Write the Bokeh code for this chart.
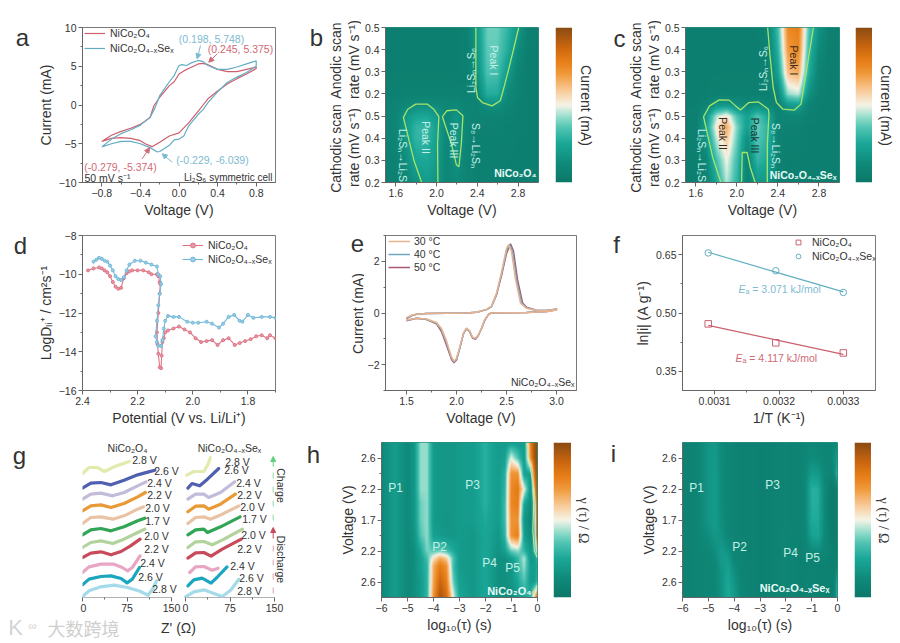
import numpy as np
from bokeh.plotting import figure
from bokeh.layouts import row, column
from bokeh.embed import file_html
from bokeh.resources import INLINE
from bokeh.models import (Range1d, Label, Legend, LegendItem, FixedTicker, LinearColorMapper,
                          Arrow, NormalHead)

NICO = "NiCo₂O₄"
NISE = "NiCo₂O₄₋ₓSeₓ"
RED, BLUE = "#CE5F6E", "#63ACC2"
FONT = "Liberation Sans"
TXT = "#333333"

# ---------- panel a
a_red_v = [-0.8,-0.7,-0.6,-0.5,-0.4,-0.3,-0.26,-0.2,-0.1,-0.05,0.0,0.05,0.1,0.2,0.245,0.3,0.35,0.4,0.5,0.6,0.7,0.8,0.8,0.7,0.6,0.5,0.4,0.3,0.25,0.2,0.1,0.0,-0.1,-0.2,-0.279,-0.35,-0.4,-0.5,-0.6,-0.7,-0.8]
a_red_i = [-4.7,-3.9,-3.4,-3.0,-2.5,-1.6,-0.1,1.0,2.5,3.0,4.0,4.4,4.7,5.3,5.375,5.2,4.9,4.6,4.3,4.3,4.6,4.9,4.7,4.0,3.4,2.7,1.8,0.8,0.0,-0.8,-2.3,-3.6,-4.0,-4.8,-5.374,-5.0,-4.6,-4.3,-4.2,-4.3,-4.7]
a_blue_v = [-0.8,-0.7,-0.6,-0.5,-0.4,-0.3,-0.25,-0.2,-0.1,-0.05,0.0,0.03,0.08,0.12,0.198,0.25,0.3,0.4,0.5,0.6,0.7,0.8,0.8,0.7,0.6,0.5,0.4,0.3,0.25,0.2,0.1,0.05,0.0,-0.05,-0.1,-0.2,-0.229,-0.3,-0.4,-0.5,-0.6,-0.7,-0.8]
a_blue_i = [-5.4,-4.4,-3.7,-3.2,-2.6,-1.6,-0.4,1.2,3.0,3.8,5.1,5.2,5.1,5.4,5.748,5.6,5.1,4.6,4.6,4.9,5.3,5.7,5.0,4.2,3.6,2.9,1.7,0.3,-0.6,-1.2,-2.7,-4.0,-4.4,-4.5,-5.2,-6.0,-6.039,-5.5,-5.0,-4.7,-4.7,-5.0,-5.4]

# ---------- panels b, c heat maps (colour level 0..1)
bc_v = [1.5,1.6,1.7,1.8,1.9,2.0,2.1,2.2,2.3,2.4,2.5,2.6,2.7,2.8,2.9,3.0]
bc_rows = [0,1,2,2.5,3,3.5,4,5,6,7]
b_map = [
[.06,.07,.10,.16,.20,.17,.10,.12,.08,.06,.06,.05,.05,.05,.05,.05],
[.06,.07,.14,.24,.26,.20,.10,.16,.08,.06,.06,.06,.05,.05,.05,.05],
[.07,.09,.19,.30,.30,.22,.10,.18,.09,.06,.06,.06,.06,.05,.05,.05],
[.07,.09,.20,.30,.31,.22,.11,.18,.09,.07,.07,.07,.06,.06,.05,.05],
[.07,.09,.18,.24,.25,.19,.11,.17,.09,.07,.08,.08,.07,.06,.05,.05],
[.07,.08,.11,.13,.14,.12,.10,.11,.08,.08,.15,.15,.09,.06,.05,.05],
[.06,.06,.07,.07,.07,.07,.07,.07,.07,.10,.27,.27,.12,.07,.05,.05],
[.05,.05,.05,.05,.05,.05,.05,.05,.06,.16,.35,.33,.20,.08,.05,.05],
[.05,.05,.05,.05,.05,.05,.05,.05,.06,.18,.37,.37,.27,.13,.05,.05],
[.05,.05,.05,.05,.05,.05,.05,.05,.07,.20,.38,.38,.30,.19,.06,.05]]
c_map = [
[.05,.05,.07,.25,.45,.30,.08,.18,.20,.07,.05,.05,.05,.05,.05,.05],
[.05,.05,.10,.33,.50,.33,.08,.30,.25,.08,.05,.05,.05,.05,.05,.05],
[.05,.06,.18,.46,.60,.38,.15,.36,.29,.08,.06,.06,.05,.05,.05,.05],
[.05,.06,.22,.52,.66,.40,.22,.38,.29,.08,.07,.07,.05,.05,.05,.05],
[.05,.06,.18,.44,.53,.34,.22,.35,.25,.08,.10,.10,.06,.05,.05,.05],
[.05,.05,.08,.17,.18,.14,.11,.14,.10,.08,.20,.22,.08,.05,.05,.05],
[.05,.05,.05,.06,.06,.06,.06,.06,.06,.10,.42,.46,.16,.06,.05,.05],
[.05,.05,.05,.05,.05,.05,.05,.05,.06,.22,.62,.66,.28,.08,.05,.05],
[.05,.05,.05,.05,.05,.05,.05,.05,.07,.28,.70,.75,.32,.12,.05,.05],
[.05,.05,.05,.05,.05,.05,.05,.05,.09,.32,.75,.78,.36,.17,.06,.05]]
b_c1_v = [2.386,2.386,2.402,2.45,2.545,2.625,2.657,2.704,2.752,2.806]
b_c1_y = [7,4.29,3.84,3.61,3.46,3.69,4.22,5.05,5.95,7]
b_c2_v = [1.855,1.78,1.676,1.718,1.797,1.909,1.972,2.023,2.01,2.014]
b_c2_y = [0,.98,2.94,3.31,3.54,3.54,3.31,2.97,1.73,0]
b_c3_v = [2.058,2.10,2.195,2.259,2.243,2.22,2.195,2.147,2.058]
b_c3_y = [2.97,3.24,3.28,3.01,1.73,.71,.8,1.73,2.97]
c_c1_v = [2.30,2.322,2.354,2.386,2.45,2.561,2.625,2.657,2.704,2.746]
c_c1_y = [7,5.8,4.29,3.61,3.31,3.27,3.54,4.44,5.8,7]
c_c2_v = [1.845,1.765,1.676,1.734,1.829,1.925,1.988,2.036,2.116,2.211,2.307,2.313,2.297,2.297]
c_c2_y = [0,1.13,2.97,3.46,3.73,3.72,3.46,3.27,3.61,3.64,3.31,3.09,1.73,0]
c_c3_v = [2.046,2.052,2.10,2.131,2.179]
c_c3_y = [0,1.355,1.355,.68,0]

# ---------- panel d
d_red_v = [2.38,2.36,2.34,2.33,2.32,2.31,2.30,2.29,2.28,2.27,2.26,2.25,2.24,2.23,2.22,2.20,2.18,2.16,2.15,2.13,2.125,2.12,2.118,2.12,2.125,2.13,2.128,2.125,2.12,2.115,2.113,2.11,2.105,2.10,2.09,2.07,2.05,2.03,2.01,1.99,1.97,1.95,1.93,1.91,1.89,1.87,1.848,1.83,1.81,1.79,1.77,1.75,1.73,1.72,1.70]
d_red_l = [-9.8,-9.7,-9.65,-9.7,-9.8,-9.9,-10.1,-10.4,-10.65,-10.75,-10.7,-10.2,-9.95,-9.85,-9.8,-9.8,-9.8,-9.9,-10.0,-10.0,-10.1,-10.4,-10.5,-11,-12,-13,-13.6,-14.1,-14.8,-14.85,-14.2,-13.5,-13.3,-13.0,-12.9,-12.8,-12.7,-12.85,-13.0,-13.3,-13.5,-13.45,-13.4,-13.65,-13.4,-13.3,-13.65,-13.55,-13.45,-13.35,-13.2,-13.15,-13.3,-13.15,-13.3]
d_blue_v = [2.36,2.35,2.34,2.33,2.32,2.31,2.30,2.29,2.28,2.27,2.26,2.25,2.24,2.23,2.21,2.19,2.17,2.15,2.13,2.125,2.118,2.115,2.12,2.125,2.13,2.135,2.13,2.125,2.115,2.11,2.105,2.10,2.09,2.07,2.05,2.02,2.0,1.98,1.95,1.93,1.905,1.89,1.87,1.85,1.83,1.82,1.80,1.78,1.75,1.72,1.70]
d_blue_l = [-9.35,-9.25,-9.15,-9.2,-9.3,-9.35,-9.55,-9.8,-10.1,-10.25,-10.3,-10.15,-9.8,-9.5,-9.3,-9.3,-9.4,-9.5,-9.6,-10.0,-10.1,-10.5,-11,-11.6,-12.4,-13.2,-13.5,-13.7,-13.7,-13.4,-12.8,-12.4,-12.15,-12.2,-12.2,-12.45,-12.5,-12.5,-12.45,-12.55,-12.75,-12.55,-12.2,-12.1,-12.4,-12.45,-12.1,-12.25,-12.2,-12.2,-12.25]

# ---------- panel e
e_v50 = [1.5,1.55,1.6,1.7,1.9,2.1,2.2,2.3,2.35,2.4,2.45,2.5,2.54,2.57,2.61,2.66,2.7,2.8,2.9,3.0,3.0,2.9,2.7,2.5,2.35,2.32,2.28,2.25,2.22,2.19,2.16,2.13,2.1,2.07,2.03,2.0,1.975,1.95,1.9,1.85,1.8,1.7,1.6,1.5]
e_i50 = [-.22,-.11,-.05,-.02,-.01,0,.03,.13,.25,.7,1.45,2.3,2.68,2.4,1.3,.4,.22,.11,.1,.16,.13,.06,.02,.01,0,-.05,-.3,-.6,-.85,-1.02,-.97,-.72,-.6,-.8,-1.4,-1.82,-1.93,-1.8,-1.25,-.72,-.42,-.25,-.2,-.3]
e_v40 = [1.5,1.55,1.6,1.7,1.9,2.1,2.2,2.3,2.35,2.4,2.45,2.5,2.53,2.56,2.6,2.65,2.7,2.8,2.9,3.0,3.0,2.9,2.7,2.5,2.35,2.32,2.28,2.25,2.22,2.19,2.16,2.13,2.1,2.07,2.03,2.0,1.975,1.95,1.9,1.85,1.8,1.7,1.6,1.5]
e_i40 = [-.2,-.1,-.05,-.02,-.01,0,.03,.13,.25,.72,1.5,2.4,2.66,2.4,1.3,.4,.2,.1,.1,.15,.13,.06,.02,.01,0,-.05,-.3,-.6,-.85,-1.0,-.95,-.7,-.6,-.8,-1.4,-1.8,-1.9,-1.75,-1.15,-.65,-.4,-.24,-.2,-.28]
e_v30 = [1.5,1.55,1.6,1.7,1.9,2.1,2.2,2.3,2.35,2.4,2.45,2.5,2.52,2.55,2.59,2.64,2.7,2.8,2.9,3.0,3.0,2.9,2.7,2.5,2.35,2.32,2.28,2.25,2.22,2.19,2.16,2.13,2.1,2.07,2.03,2.0,1.975,1.95,1.9,1.85,1.8,1.7,1.6,1.5]
e_i30 = [-.18,-.09,-.05,-.02,-.01,0,.03,.14,.27,.76,1.58,2.5,2.64,2.38,1.3,.38,.18,.1,.09,.15,.12,.05,.02,.01,0,-.05,-.28,-.58,-.83,-.98,-.93,-.68,-.58,-.78,-1.35,-1.75,-1.87,-1.7,-1.08,-.6,-.37,-.23,-.2,-.27]

# ---------- panel f
f_t_red, f_y_red = [0.00309,0.003195,0.0033], [0.472,0.423,0.397]
f_t_blue, f_y_blue = [0.00309,0.003195,0.0033], [0.655,0.609,0.553]

# ---------- panel g (Z', stacked -Z'')
g_labels_l = ["2.8 V","2.6 V","2.4 V","2.2 V","2.0 V","1.7 V","2.0 V","2.2 V","2.4 V","2.6 V","2.8 V"]
g_colors = ["#A5DAE8","#1BA6BF","#E8A6C4","#C84B5C","#B3D39C","#32A556","#EAC3A4","#E99A36","#C3BBDA","#4F60B0","#E3EAAE"]
g_l_x = [[0,11,31,53,76,98,110,118,125],[0,11,31,48,65,75,84,96],[0,11,31,53,67,76,84,97],[0,14,31,48,65,81,97],[0,14,31,51,70,93,105],[0,14,31,48,70,93,105],[0,14,31,51,70,93,103],[0,14,31,48,70,93,106],[0,14,31,51,70,93,107],[0,14,31,48,70,93,110,122],[0,11,25,37,53,79]]
g_l_y = [[3,20,32,37,30,18,7,25,50],[38,55,63,65,57,44,55,90],[75,92,100,100,90,80,90,125],[120,133,137,128,138,155,175],[150,165,170,162,175,195,205],[188,203,207,200,212,230,238],[222,240,242,235,245,265,272],[260,275,278,270,282,302,315],[295,310,313,305,315,335,347],[328,343,345,338,352,368,376,382],[372,390,390,378,392,408]]
g_r_x = [[0,14,31,48,62,76,90],[4,14,28,43,53,70],[7,17,31,45,55],[4,17,31,43,62,94],[4,17,31,45,65,96],[4,17,31,37,59,92],[4,17,31,42,62,90],[4,17,31,39,59,84],[4,17,31,39,59,83],[4,11,24,37,56],[2,14,31,38,42]]
g_r_y = [[2,17,23,12,3,22,55],[35,53,58,43,60,92],[75,92,93,82,88],[118,134,135,124,145,175],[150,167,168,158,175,205],[188,203,205,195,212,242],[222,240,242,235,250,275],[257,274,275,265,280,310],[295,310,310,300,315,347],[328,342,335,355,387],[367,378,378,400,420]]

# ---------- panels h, i heat maps
hi_t = [-6,-5.5,-5,-4.75,-4.5,-4.25,-4,-3.75,-3.5,-3.25,-3,-2.5,-2,-1.5,-1.25,-1,-.75,-.5,-.25,-.1,0]
hi_rows = [-.5,0,.5,.75,1,1.5,2,2.5,3,3.5,4,4.5]
h_map = [
[.12,.2,.12,.14,.2,.3,.72,.95,.85,.5,.25,.18,.25,.15,.15,.14,.2,.25,.3,.6,.85],
[.12,.2,.12,.14,.2,.3,.68,.88,.78,.38,.22,.18,.25,.15,.15,.17,.25,.35,.2,.2,.3],
[.12,.2,.12,.14,.22,.3,.66,.8,.72,.33,.2,.18,.25,.15,.15,.18,.3,.42,.2,.2,.25],
[.12,.2,.12,.14,.22,.33,.55,.68,.6,.35,.2,.18,.25,.15,.15,.2,.3,.45,.18,.2,.3],
[.12,.2,.12,.14,.25,.4,.35,.38,.33,.26,.2,.18,.25,.16,.22,.38,.42,.3,.18,.3,.5],
[.12,.2,.12,.16,.35,.42,.22,.2,.18,.18,.2,.18,.25,.18,.3,.72,.78,.22,.12,.3,.95],
[.12,.2,.12,.18,.38,.42,.2,.18,.17,.18,.2,.2,.26,.2,.32,.72,.72,.18,.1,.35,.95],
[.12,.2,.12,.18,.38,.42,.2,.18,.18,.18,.2,.2,.28,.2,.32,.75,.78,.24,.12,.4,.95],
[.12,.2,.12,.18,.42,.42,.2,.18,.18,.18,.2,.2,.28,.2,.3,.75,.8,.5,.15,.7,.95],
[.12,.2,.12,.18,.42,.42,.2,.18,.18,.18,.2,.2,.28,.2,.28,.72,.72,.22,.22,.85,.98],
[.12,.2,.12,.18,.42,.42,.2,.18,.18,.18,.2,.2,.28,.2,.22,.5,.35,.2,.75,.95,1],
[.12,.2,.12,.18,.42,.42,.2,.18,.18,.18,.2,.2,.28,.2,.2,.22,.2,.2,.8,.95,1]]
i_map = [
[.07,.08,.09,.1,.16,.26,.2,.1,.08,.07,.06,.07,.09,.07,.07,.08,.07,.06,.06,.08,.3],
[.07,.08,.09,.1,.16,.25,.17,.09,.08,.07,.06,.07,.09,.07,.07,.08,.07,.07,.06,.08,.25],
[.07,.08,.09,.1,.18,.22,.13,.08,.08,.07,.06,.07,.09,.07,.07,.07,.07,.07,.07,.06,.1],
[.07,.08,.09,.12,.2,.2,.1,.08,.07,.07,.06,.07,.09,.07,.07,.08,.08,.08,.06,.05,.07],
[.07,.08,.1,.14,.2,.16,.09,.08,.07,.07,.06,.07,.09,.07,.08,.12,.13,.1,.07,.06,.07],
[.07,.08,.14,.18,.16,.1,.08,.07,.07,.07,.06,.07,.09,.07,.1,.22,.25,.12,.04,.03,.05],
[.07,.08,.17,.2,.14,.09,.08,.07,.07,.07,.06,.07,.08,.07,.1,.26,.26,.12,.03,.03,.06],
[.07,.08,.17,.2,.13,.09,.08,.07,.07,.07,.06,.07,.08,.07,.1,.27,.27,.12,.03,.03,.06],
[.07,.08,.17,.2,.13,.09,.08,.07,.07,.07,.06,.07,.08,.07,.1,.28,.27,.12,.03,.03,.07],
[.07,.08,.17,.2,.13,.09,.08,.07,.07,.07,.06,.07,.08,.07,.11,.2,.19,.11,.08,.12,.3],
[.07,.08,.17,.19,.13,.09,.08,.07,.07,.07,.06,.07,.08,.07,.1,.13,.12,.1,.09,.15,.2],
[.07,.08,.17,.19,.12,.09,.08,.07,.07,.07,.06,.07,.08,.07,.09,.11,.1,.09,.08,.1,.12]]
h_c1_t = [-.41,-.26,-.13,-.18,-.12,0]
h_c1_y = [4.49,3.58,2.99,1.65,1,.78]
h_c2_t = [-.22,0]
h_c2_y = [-.37,-.13]

# ---------- colours and helpers
stops = [(0,"#0C7869"),(.12,"#0F8A7A"),(.25,"#1AA797"),(.35,"#4FC3B2"),(.42,"#93DDCC"),(.5,"#F6F4E6"),(.6,"#F8C793"),(.7,"#F09A3C"),(.78,"#E87F18"),(.88,"#C8650F"),(1,"#8A4B12")]
def hexrgb(c): return [int(c[i:i+2],16) for i in (1,3,5)]
pos = np.array([s[0] for s in stops]); rgbs = np.array([hexrgb(s[1]) for s in stops])
lv = np.linspace(0,1,256)
palette = ["#%02x%02x%02x" % tuple(int(round(np.interp(l,pos,rgbs[:,k]))) for k in range(3)) for l in lv]
mapper = LinearColorMapper(palette=palette, low=0, high=1)

AX = 14
GEOM = {}
def panel(box, frame, xr, yr):
    """box and frame are page pixels (x0,y0,x1,y1)."""
    p = figure(width=box[2]-box[0], height=box[3]-box[1], output_backend="svg", toolbar_location=None,
               x_range=Range1d(*xr), y_range=Range1d(*yr), frame_align=False,
               min_border_left=frame[0]-box[0], min_border_right=box[2]-frame[2],
               min_border_top=frame[1]-box[1], min_border_bottom=box[3]-frame[3])
    p.grid.visible = False
    p.outline_line_color = "#7a7a7a"
    p.background_fill_color = "white"
    GEOM[id(p)] = (frame, xr, yr, box)
    for ax in p.axis:
        ax.major_label_text_font = FONT; ax.major_label_text_font_size = "10.5px"
        ax.major_label_text_color = TXT; ax.axis_label_text_font = FONT
        ax.axis_label_text_font_size = f"{AX}px"; ax.axis_label_text_font_style = "normal"
        ax.axis_label_text_color = TXT; ax.axis_line_color = "#666666"
        ax.major_tick_line_color = "#666666"; ax.minor_tick_line_color = "#666666"
        ax.major_tick_out = 4; ax.major_tick_in = 0; ax.minor_tick_out = 2; ax.minor_tick_in = 0
        ax.major_label_standoff = 2; ax.axis_label_standoff = 2
    return p

def gutter(box):
    """text-only strip: its whole area is the frame, so its labels stay visible"""
    p = figure(width=box[2]-box[0], height=box[3]-box[1], output_backend="svg", toolbar_location=None,
               x_range=Range1d(0,1), y_range=Range1d(0,1), x_axis_location=None, y_axis_location=None,
               frame_align=False, min_border_left=0, min_border_right=0, min_border_top=0, min_border_bottom=0)
    p.grid.visible = False; p.outline_line_color = None
    GEOM[id(p)] = (box, (0,1), (0,1), box)
    return p

def xy(p, px, py):
    f, xr, yr, _ = GEOM[id(p)]
    return (xr[0]+(px-f[0])/(f[2]-f[0])*(xr[1]-xr[0]), yr[1]+(py-f[1])/(f[3]-f[1])*(yr[0]-yr[1]))

def lab(p, px, py, text, size=10.5, color=TXT, angle=0, align="center", style="normal", font=FONT):
    box = GEOM[id(p)][3]
    p.add_layout(Label(x=px-box[0], y=py-box[1], x_units="canvas", y_units="canvas", text=text, text_font=font,
                       text_font_size=f"{size}px", text_color=color, angle=angle, angle_units="deg",
                       text_align=align, text_baseline="middle", text_font_style=style))

def arrow(p, a, b, color):
    xa, ya = xy(p, *a); xb, yb = xy(p, *b)
    p.add_layout(Arrow(end=NormalHead(size=5, line_color=color, fill_color=color), line_color=color,
                       line_width=1, x_start=xa, y_start=ya, x_end=xb, y_end=yb))

def legend(p, items, x, y, gw=21, standoff=5, spacing=2):
    p.add_layout(Legend(items=[LegendItem(label=t, renderers=r) for t, r in items], location=(x, y),
                        background_fill_alpha=0, border_line_color=None, padding=0, margin=0,
                        glyph_width=gw, glyph_height=12, label_height=12, label_standoff=standoff, spacing=spacing,
                        label_text_font=FONT, label_text_font_size="10.5px", label_text_color=TXT))

def fmt(ticks, n=1):
    return {v: f"{v:.{n}f}".replace("-", "−") for v in ticks}

def smooth_map(mat, xs, ys, n=240):
    """resample the read-off grid for display on an even pixel grid"""
    mat = np.array(mat, float)
    xn = np.linspace(xs[0], xs[-1], n); yn = np.linspace(ys[0], ys[-1], n)
    t = np.array([np.interp(xn, xs, r) for r in mat])
    return np.array([np.interp(yn, ys, t[:, k]) for k in range(n)]).T

def heat(p, mat, xs, ys):
    p.image(image=[smooth_map(mat, xs, ys)], x=xs[0], y=ys[0], dw=xs[-1]-xs[0], dh=ys[-1]-ys[0], color_mapper=mapper)

def colorbar(box, frame):
    p = figure(width=box[2]-box[0], height=box[3]-box[1], output_backend="svg", toolbar_location=None,
               x_range=Range1d(0,1), y_range=Range1d(0,1), x_axis_location=None, y_axis_location=None, frame_align=False,
               min_border_left=frame[0]-box[0], min_border_right=box[2]-frame[2],
               min_border_top=frame[1]-box[1], min_border_bottom=box[3]-frame[3])
    p.grid.visible = False; p.outline_line_color = None
    p.image(image=[np.linspace(0,1,256).reshape(-1,1)], x=0, y=0, dw=1, dh=1, color_mapper=mapper)
    return p

MINT = "#C4F0E6"
CONT = "#A6E468"

# ---- a
ga = gutter((8,8,34,225)); lab(ga, 22, 37, "a", 24)
pa = panel((34,8,300,225), (82,27,275,182), (-1,1), (-10,10))
pa.xaxis.axis_label = "Voltage (V)"; pa.yaxis.axis_label = "Current (mA)"
ta = [-0.8,-0.4,0.0,0.4,0.8]
pa.xaxis.ticker = FixedTicker(ticks=ta, minor_ticks=[-0.6,-0.2,0.2,0.6]); pa.xaxis.major_label_overrides = fmt(ta)
pa.yaxis.ticker = FixedTicker(ticks=[-10,-5,0,5,10], minor_ticks=[-7.5,-2.5,2.5,7.5])
ra = pa.line(a_red_v, a_red_i, line_color=RED, line_width=1.2)
rb = pa.line(a_blue_v, a_blue_i, line_color=BLUE, line_width=1.2)
legend(pa, [(NICO,[ra]),(NISE,[rb])], 2, 127, spacing=2)
lab(pa, 211, 38, "(0.198, 5.748)", 10.5, "#7DBBD2")
lab(pa, 240, 48, "(0.245, 5.375)", 10.5, "#D06A75")
lab(pa, 212, 159, "(-0.229, -6.039)", 10.5, "#7DBBD2")
lab(pa, 120, 166, "(-0.279, -5.374)", 10.5, "#D06A75")
lab(pa, 84, 177, "50 mV s⁻¹", 10.5, align="left")
lab(pa, 272, 177, "Li₂S₆ symmetric cell", 10, align="right")
arrow(pa, (200,45), (196.7,58.3), "#7DBBD2"); arrow(pa, (216.7,53.3), (208.3,61.7), "#D06A75")
arrow(pa, (171.7,161.7), (161.7,153.3), "#7DBBD2"); arrow(pa, (141.7,158.3), (149,147.3), "#D06A75")

# ---- b, c
Y8 = {0:"0.2",1:"0.3",2:"0.4",3:"0.5",4:"0.2",5:"0.3",6:"0.4",7:"0.5"}
def scan_gutter(box, x0, letter, lp):
    g = gutter(box)
    lab(g, x0-47, 60, "Anodic scan", AX, angle=90); lab(g, x0-29, 59, "rate (mV s⁻¹)", AX, angle=90)
    lab(g, x0-47, 148, "Cathodic scan", AX, angle=90); lab(g, x0-29, 147, "rate (mV s⁻¹)", AX, angle=90)
    lab(g, lp[0], lp[1], letter, 24)
    return g

def scan_panel(box, frame, mat, conts):
    p = panel(box, frame, (1.5,3.0), (0,7))
    heat(p, mat, bc_v, bc_rows)
    p.outline_line_color = "#2c8f80"
    p.xaxis.axis_label = "Voltage (V)"
    tb = [1.6,2.0,2.4,2.8]
    p.xaxis.ticker = FixedTicker(ticks=tb, minor_ticks=[1.8,2.2,2.6]); p.xaxis.major_label_overrides = fmt(tb)
    p.yaxis.ticker = FixedTicker(ticks=list(Y8))
    p.yaxis.major_label_overrides = Y8
    for cx, cy in conts:
        p.line(cx, cy, line_color=CONT, line_width=1.3)
    return p

gb = scan_gutter((300,8,361,225), 382, "b", (316,37))
pb = scan_panel((361,8,545,225), (382,27,538,182), b_map, [(b_c1_v,b_c1_y),(b_c2_v,b_c2_y),(b_c3_v,b_c3_y)])
lab(pb, 493, 60, "Peak I", 10.5, MINT, angle=-90); lab(pb, 425, 137, "Peak II", 10.5, MINT, angle=-90)
lab(pb, 453, 140, "Peak III", 10.5, MINT, angle=-90)
lab(pb, 470, 70, "Li₂Sₙ→S₈", 10.5, MINT, angle=90); lab(pb, 402, 155, "Li₂Sₙ→Li₂S", 10.5, MINT, angle=-90)
lab(pb, 475, 145, "S₈→Li₂Sₙ", 10.5, MINT, angle=-90)
lab(pb, 536, 172, NICO, 10.5, "#E8FBF6", align="right", style="bold")
cbb = colorbar((545,8,572,225), (555,27,572,182))
lbb = gutter((572,8,597,225)); lab(lbb, 585, 105, "Current (mA)", AX, angle=-90)

gc = scan_gutter((597,8,661,225), 682, "c", (619,38))
pc = scan_panel((661,8,847,225), (682,27,839,182), c_map, [(c_c1_v,c_c1_y),(c_c2_v,c_c2_y),(c_c3_v,c_c3_y)])
lab(pc, 793, 60, "Peak I", 10.5, "#3d2a1c", angle=-90); lab(pc, 722, 133, "Peak II", 10.5, "#3d2a1c", angle=-90)
lab(pc, 754, 135, "Peak III", 10.5, "#17352f", angle=-90)
lab(pc, 762, 68, "Li₂Sₙ→S₆", 10.5, MINT, angle=90); lab(pc, 701, 155, "Li₂Sₙ→Li₂S", 10.5, MINT, angle=-90)
lab(pc, 775, 145, "S₈→Li₂Sₙ", 10.5, MINT, angle=-90)
lab(pc, 836, 174, NISE, 10.5, "#E8FBF6", align="right", style="bold")
cbc = colorbar((847,8,872,225), (855,27,872,182))
lbc = gutter((872,8,894,225)); lab(lbc, 885, 105, "Current (mA)", AX, angle=-90)

# ---- d
gd = gutter((8,225,34,430)); lab(gd, 20, 245, "d", 24)
pd = panel((34,225,300,430), (82,235,275,390), (2.4,1.7), (-16,-8))
pd.xaxis.axis_label = "Potential (V vs. Li/Li⁺)"; pd.yaxis.axis_label = "LogDₗᵢ⁺ / cm²s⁻¹"
td = [2.4,2.2,2.0,1.8]
pd.xaxis.ticker = FixedTicker(ticks=td, minor_ticks=[2.3,2.1,1.9,1.7]); pd.xaxis.major_label_overrides = fmt(td)
pd.yaxis.ticker = FixedTicker(ticks=[-16,-14,-12,-10,-8], minor_ticks=[-15,-13,-11,-9])
dr = [pd.line(d_red_v, d_red_l, line_color="#DE7485", line_width=1.1),
      pd.scatter(d_red_v, d_red_l, size=3, marker="circle", line_color="#DE7485", fill_color="#E898A5")]
db = [pd.line(d_blue_v, d_blue_l, line_color="#72B8D8", line_width=1.1),
      pd.scatter(d_blue_v, d_blue_l, size=3, marker="circle", line_color="#72B8D8", fill_color="#9CCFE5")]
legend(pd, [(NICO,dr),(NISE,db)], 100, 124, spacing=1)

# ---- e
ge = gutter((300,225,364,430)); lab(ge, 357, 243, "e", 24); lab(ge, 357, 313, "Current (mA)", AX, angle=90)
pe = panel((364,225,600,430), (382,235,576,390), (1.29,3.2), (-3,3))
pe.xaxis.axis_label = "Voltage (V)"
te = [1.5,2.0,2.5,3.0]
pe.xaxis.ticker = FixedTicker(ticks=te, minor_ticks=[1.75,2.25,2.75]); pe.xaxis.major_label_overrides = fmt(te)
pe.yaxis.ticker = FixedTicker(ticks=[-2,0,2], minor_ticks=[-3,-1,1,3])
r50 = pe.line(e_v50, e_i50, line_color="#A9586E", line_width=1.5)
r40 = pe.line(e_v40, e_i40, line_color="#6FA7C0", line_width=1.5)
r30 = pe.line(e_v30, e_i30, line_color="#E9B38F", line_width=1.5)
legend(pe, [("30 °C",[r30]),("40 °C",[r40]),("50 °C",[r50])], 3, 117, gw=22, standoff=4, spacing=1)
lab(pe, 574, 381, NISE, 10.5, align="right")

# ---- f
gf = gutter((600,225,630,430)); lab(gf, 616, 244, "f", 24)
pf = panel((630,225,892,430), (682,235,875,390), (0.00305,0.00335), (0.3,0.7))
pf.xaxis.axis_label = "1/T (K⁻¹)"
pf.yaxis.axis_label = "ln|i| (A g⁻¹)"
tf = [0.0031,0.0032,0.0033]
pf.xaxis.ticker = FixedTicker(ticks=tf, minor_ticks=[0.00315,0.00325]); pf.xaxis.major_label_overrides = fmt(tf, 4)
ty = [0.35,0.5,0.65]
pf.yaxis.ticker = FixedTicker(ticks=ty, minor_ticks=[0.425,0.575]); pf.yaxis.major_label_overrides = fmt(ty, 2)
for tx, yy, c in ((f_t_red,f_y_red,"#C9616F"),(f_t_blue,f_y_blue,"#63AFC2")):
    k = np.polyfit(tx, yy, 1)
    pf.line(tx, np.polyval(k, tx), line_color=c, line_width=1.2)
fr = pf.scatter(f_t_red, f_y_red, marker="square", size=6.5, line_color="#C9616F", fill_color=None)
fb = pf.scatter(f_t_blue, f_y_blue, marker="circle", size=6.5, line_color="#63AFC2", fill_color=None)
legend(pf, [(NICO,[fr]),(NISE,[fb])], 106, 127, gw=20, standoff=4, spacing=1)
lab(pf, 738, 288, "E", 10.5, "#7DBBD2", align="left", style="italic")
lab(pf, 745, 288, "ₐ = 3.071 kJ/mol", 10.5, "#7DBBD2", align="left")
lab(pf, 735, 357, "E", 10.5, "#D06A75", align="left", style="italic")
lab(pf, 742, 357, "ₐ = 4.117 kJ/mol", 10.5, "#D06A75", align="left")

# ---- g : one frame holding two sub-plots; right plot origin sits 103 px right of the left one
G_SCALE = 150/89.0
G_OFF = 103*G_SCALE
gg = gutter((8,430,80,616)); lab(gg, 19, 455, "g", 24)
pg = panel((80,430,300,616), (82,438,292,597), (0,210*G_SCALE), (0,477))
pg.outline_line_color = None
pg.yaxis.visible = False
gt = [0,75,150,G_OFF,G_OFF+75,G_OFF+150]
pg.xaxis.ticker = FixedTicker(ticks=gt, minor_ticks=[37.5,112.5,G_OFF+37.5,G_OFF+112.5])
pg.xaxis.major_label_overrides = {gt[0]:"0",gt[1]:"75",gt[2]:"150",gt[3]:"0",gt[4]:"75",gt[5]:"150"}
pg.xaxis.axis_line_color = None
pg.segment(x0=[0,G_OFF], y0=[0,0], x1=[150,G_OFF+150], y1=[0,0], line_color="#666666", line_width=1)
for xs, ys, c in zip(g_l_x, g_l_y, g_colors):
    pg.line(xs, ys, line_color=c, line_width=3.2, line_cap="round", line_join="round")
for xs, ys, c in zip(g_r_x, g_r_y, g_colors):
    pg.line([v+G_OFF for v in xs], ys, line_color=c, line_width=3.2, line_cap="round", line_join="round")
gl_pos = [(164,588),(150,576),(152,562),(156,548),(156,535),(157,520),(157,507),(159,494),(159,482),(166,470),(144,459)]
gr_pos = [(249,590),(251,577),(242,565),(249,548),(253,534),(254,518),(252,506),(249,494),(248,482),(236,469),(237,461)]
for t, q in zip(g_labels_l, gl_pos):
    lab(pg, q[0], q[1], t, 10.5)
for t, q in zip(g_labels_l, gr_pos):
    lab(pg, q[0], q[1], t, 10.5)
lab(pg, 127, 447, NICO, 10.5); lab(pg, 229, 447, NISE, 10.5)
lab(pg, 280, 485, "Charge", 10.5, angle=-90); lab(pg, 280, 559, "Discharge", 10.5, angle=-90)
gx0, gy0 = xy(pg, 272.7, 520); gx1, gy1 = xy(pg, 272.7, 466)
pg.line([gx0,gx1],[gy0,gy1], line_color="#8FD9A0", line_width=1, line_dash="6 8")
rx0, ry0 = xy(pg, 272.7, 593); rx1, ry1 = xy(pg, 272.7, 538)
pg.line([rx0,rx1],[ry0,ry1], line_color="#E3A0B0", line_width=1, line_dash="6 8")
arrow(pg, (272.7,466), (272.7,456), "#5FD07A"); arrow(pg, (272.7,538), (272.7,527), "#C84B5C")
sg = gutter((8,616,300,640))
lab(sg, 178, 627, "Z' (Ω)", AX)
lab(sg, 83, 627, "大数跨境", 18, "#CFCFCF", font="Noto Sans CJK SC")
lab(sg, 15, 627, "K", 22, "#D4D4D4"); lab(sg, 32, 625, "∞", 12, "#D4D4D4")

# ---- h, i
Y5 = {0:"2.6",1:"2.2",2:"1.7",3:"2.2",4:"2.6"}
def tau_panel(box, frame, mat):
    p = panel(box, frame, (-6,0), (-0.5,4.5))
    heat(p, mat, hi_t, hi_rows)
    p.outline_line_color = "#2c8f80"
    p.xaxis.axis_label = "log₁₀(τ) (s)"; p.yaxis.axis_label = "Voltage (V)"
    p.xaxis.ticker = FixedTicker(ticks=[-6,-5,-4,-3,-2,-1,0], minor_ticks=[])
    p.yaxis.ticker = FixedTicker(ticks=[0,1,2,3,4], minor_ticks=[0.5,1.5,2.5,3.5])
    p.yaxis.major_label_overrides = Y5
    return p

gh = gutter((300,430,330,640)); lab(gh, 313, 454, "h", 24)
ph = tau_panel((330,430,545,640), (381,442,537,597), h_map)
ph.line(h_c1_t, h_c1_y, line_color="#CBE68F", line_width=1.1); ph.line(h_c2_t, h_c2_y, line_color="#CBE68F", line_width=1.1)
for t, q in (("P1",(395,487)),("P3",(472,484)),("P2",(439,546)),("P4",(489,562)),("P5",(512,567))):
    lab(ph, q[0], q[1], t, 12, MINT)
lab(ph, 531, 590, NICO, 11, "#E8FBF6", align="right", style="bold")
cbh = colorbar((545,430,571,640), (553,442,571,597))
lbh = gutter((571,430,597,640)); lab(lbh, 583, 520, "γ (τ) / Ω", AX, angle=-90, font="Liberation Serif")

gi = gutter((597,430,630,640)); lab(gi, 613, 453, "i", 24)
pi = tau_panel((630,430,847,640), (682,442,837,597), i_map)
for t, q in (("P1",(696,487)),("P3",(772,484)),("P2",(739,546)),("P4",(790,552)),("P5",(812,557))):
    lab(pi, q[0], q[1], t, 12, MINT)
lab(pi, 829, 587, NISE, 11, "#E8FBF6", align="right", style="bold")
cbi = colorbar((847,430,871,640), (854,442,871,597))
lbi = gutter((871,430,894,640)); lab(lbi, 883, 520, "γ (τ) / Ω", AX, angle=-90, font="Liberation Serif")

page = column(row(ga, pa, gb, pb, cbb, lbb, gc, pc, cbc, lbc),
              row(gd, pd, ge, pe, gf, pf),
              row(column(row(gg, pg), sg), gh, ph, cbh, lbh, gi, pi, cbi, lbi),
              margin=(8,0,0,8))
open("out.html", "w").write(file_html(page, INLINE))
